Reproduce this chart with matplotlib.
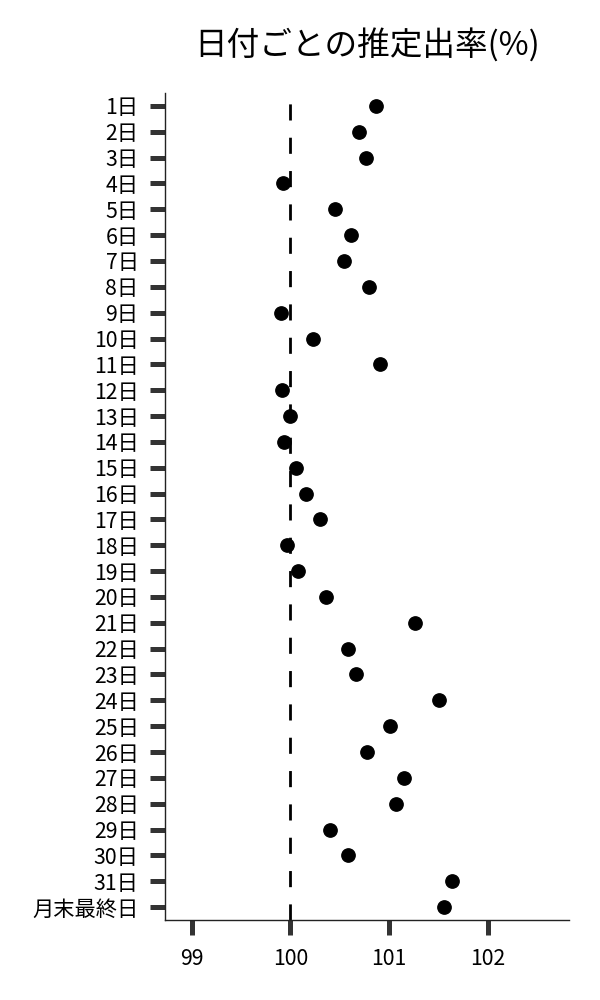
import matplotlib
matplotlib.use('Agg')
import matplotlib.pyplot as plt

plt.rcParams['font.family'] = ['Noto Sans CJK JP', 'DejaVu Sans']

days = [f'{i}日' for i in range(1, 32)] + ['月末最終日']
rates = [100.87, 100.70, 100.77, 99.93, 100.45, 100.61, 100.54, 100.80,
         99.91, 100.23, 100.91, 99.92, 100.00, 99.94, 100.06, 100.16,
         100.30, 99.97, 100.08, 100.36, 101.26, 100.58, 100.66, 101.51,
         101.01, 100.78, 101.15, 101.07, 100.40, 100.58, 101.64, 101.56]
x_ticks = [99, 100, 101, 102]
title = '日付ごとの推定出率(%)'

fig = plt.figure(figsize=(6, 10), dpi=100)
ax = fig.add_axes([0.275, 0.08, 0.673, 0.827])

y = list(range(len(days)))
ax.scatter(rates, y, s=92, color='black', zorder=3)
ax.axvline(100, color='black', linestyle=(0, (5.8, 6.2)), linewidth=2, zorder=2)

ax.set_yticks(y)
ax.set_yticklabels(days)
ax.set_ylim(len(days) - 0.5, -0.5)
ax.set_xlim(98.73, 102.82)
ax.set_xticks(x_ticks)
ax.set_xticklabels([str(v) for v in x_ticks])

for side in ['top', 'right']:
    ax.spines[side].set_visible(False)
for side in ['left', 'bottom']:
    ax.spines[side].set_linewidth(1.0)
    ax.spines[side].set_color('#222222')

ax.tick_params(axis='both', length=11, width=3.6, color='#333333',
               labelsize=15.3)
ax.tick_params(axis='y', pad=8)
ax.tick_params(axis='x', pad=9)

ax.set_title(title, fontsize=23.5, pad=27)

fig.savefig('out.png', dpi=100)
